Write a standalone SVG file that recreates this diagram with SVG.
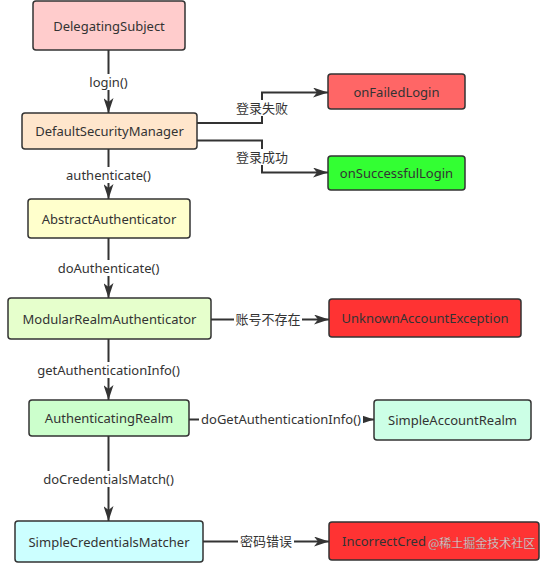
<svg xmlns="http://www.w3.org/2000/svg" width="544" height="566" viewBox="0 0 544 566">
<defs>
<marker id="arr" markerUnits="userSpaceOnUse" viewBox="0 0 15 10" markerWidth="15" markerHeight="10" refX="15" refY="5" orient="auto">
<path d="M0,0 L15,5 L0,10 L4,5 Z" fill="#333"/>
</marker>
</defs>
<style>
.box{stroke:#333;stroke-width:1.5}
.t{font-family:"Noto Sans","Noto Sans CJK SC",sans-serif;font-size:13px;fill:#333;text-anchor:middle;dominant-baseline:central}
.c{fill:none;stroke:#333;stroke-width:2}
.lb{fill:#fff}
</style>
<rect width="544" height="566" fill="#fff"/>
<g id="connectors">
<path class="c" d="M108.5,50 V113" marker-end="url(#arr)"/>
<path class="c" d="M108.5,149 V199" marker-end="url(#arr)"/>
<path class="c" d="M108.5,238 V298" marker-end="url(#arr)"/>
<path class="c" d="M108.5,339 V400" marker-end="url(#arr)"/>
<path class="c" d="M108.5,436 V521" marker-end="url(#arr)"/>
<path class="c" d="M197,123 H262 V92.5 H328" marker-end="url(#arr)"/>
<path class="c" d="M197,140.5 H262 V172.5 H328" marker-end="url(#arr)"/>
<path class="c" d="M211,319.5 H329" marker-end="url(#arr)"/>
<path class="c" d="M189,419.5 H374" marker-end="url(#arr)"/>
<path class="c" d="M203,541.5 H329" marker-end="url(#arr)"/>
<rect class="lb" x="86" y="74" width="45" height="16"/>
<text class="t" x="108.5" y="82">login()</text>
<rect class="lb" x="64" y="167" width="89" height="16"/>
<text class="t" x="108.5" y="175">authenticate()</text>
<rect class="lb" x="54" y="260" width="109" height="16"/>
<text class="t" x="108.5" y="268">doAuthenticate()</text>
<rect class="lb" x="35" y="362" width="147" height="16"/>
<text class="t" x="108.5" y="370">getAuthenticationInfo()</text>
<rect class="lb" x="41" y="471" width="135" height="16"/>
<text class="t" x="108.5" y="479">doCredentialsMatch()</text>
<rect class="lb" x="234" y="100" width="56" height="16"/>
<text class="t" x="262" y="108">登录失败</text>
<rect class="lb" x="234" y="149" width="56" height="16"/>
<text class="t" x="262" y="157">登录成功</text>
<rect class="lb" x="234" y="311" width="68" height="16"/>
<text class="t" x="268" y="319">账号不存在</text>
<rect class="lb" x="199" y="411" width="164" height="16"/>
<text class="t" x="281" y="419">doGetAuthenticationInfo()</text>
<rect class="lb" x="238" y="533" width="56" height="16"/>
<text class="t" x="266" y="541">密码错误</text>
</g>
<g id="DelegatingSubject"><rect class="box" x="33" y="1" width="152" height="49" rx="3" fill="#ffcccc"/><text class="t" x="109" y="26">DelegatingSubject</text></g>
<g id="DefaultSecurityManager"><rect class="box" x="22" y="113" width="175" height="36" rx="3" fill="#ffe6cc"/><text class="t" x="109.5" y="131">DefaultSecurityManager</text></g>
<g id="AbstractAuthenticator"><rect class="box" x="28" y="199" width="162" height="39" rx="3" fill="#ffffcc"/><text class="t" x="109" y="218.5">AbstractAuthenticator</text></g>
<g id="ModularRealmAuthenticator"><rect class="box" x="8" y="298" width="203" height="41" rx="3" fill="#e6ffcc"/><text class="t" x="109.5" y="319">ModularRealmAuthenticator</text></g>
<g id="AuthenticatingRealm"><rect class="box" x="29" y="400" width="160" height="36" rx="3" fill="#ccffcc"/><text class="t" x="109" y="418">AuthenticatingRealm</text></g>
<g id="SimpleCredentialsMatcher"><rect class="box" x="15" y="521" width="188" height="41" rx="3" fill="#ccffff"/><text class="t" x="109" y="541.5">SimpleCredentialsMatcher</text></g>
<g id="onFailedLogin"><rect class="box" x="328" y="74" width="137" height="35" rx="3" fill="#ff6666"/><text class="t" x="396.5" y="91.5">onFailedLogin</text></g>
<g id="onSuccessfulLogin"><rect class="box" x="328" y="156" width="137" height="34" rx="3" fill="#33ff33"/><text class="t" x="396.5" y="173">onSuccessfulLogin</text></g>
<g id="UnknownAccountException"><rect class="box" x="329" y="299" width="192" height="38" rx="3" fill="#ff3333"/><text class="t" x="425" y="318">UnknownAccountException</text></g>
<g id="SimpleAccountRealm"><rect class="box" x="374" y="400" width="157" height="40" rx="3" fill="#ccffe6"/><text class="t" x="452.5" y="420">SimpleAccountRealm</text></g>
<g id="IncorrectCredentialsException"><rect class="box" x="329" y="522" width="210" height="38" rx="3" fill="#ff3333"/><text class="t" x="342" y="541" style="text-anchor:start">IncorrectCred</text></g>
<text x="428" y="542" style="font-family:'Noto Sans CJK SC',sans-serif;font-size:12px;fill:#ffffff;fill-opacity:0.8;stroke:#555;stroke-opacity:0.5;stroke-width:0.4;dominant-baseline:central">@稀土掘金技术社区</text>
</svg>
